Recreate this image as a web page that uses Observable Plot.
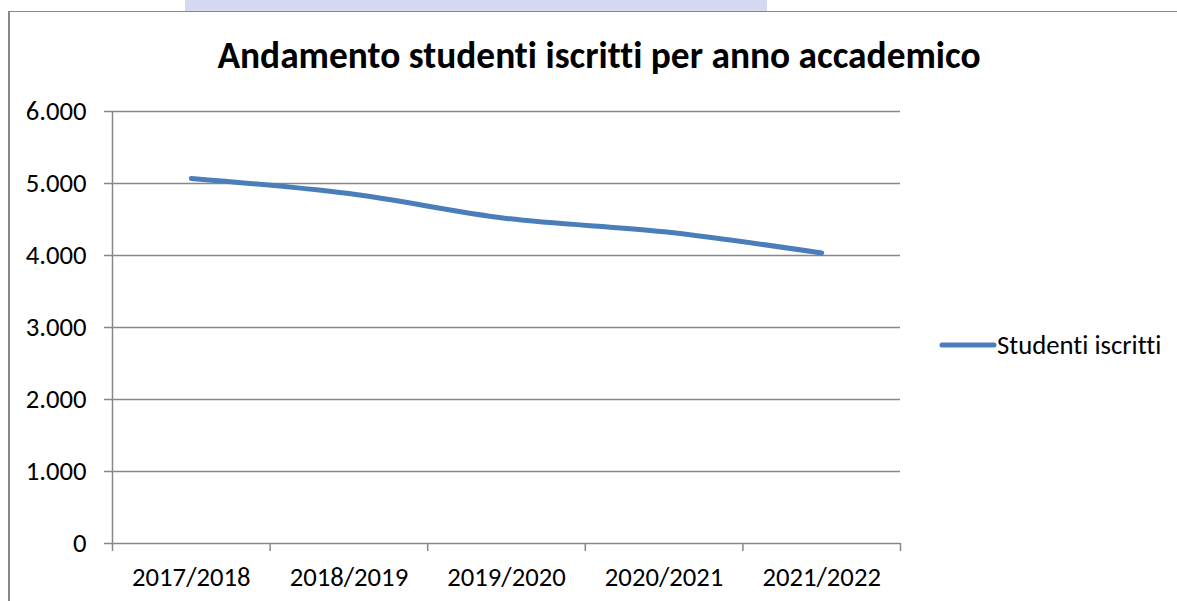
<!DOCTYPE html>
<html>
<head>
<meta charset="utf-8">
<script src="https://cdn.jsdelivr.net/npm/d3@7"></script>
<script src="https://cdn.jsdelivr.net/npm/@observablehq/plot@0.6"></script>
<style>
  html, body { margin: 0; padding: 0; background: #fff; }
  #wrap { position: relative; width: 1177px; height: 601px; overflow: hidden; background: #fff; }
  #band { position: absolute; left: 185px; top: 0; width: 582px; height: 11px; background: #d5d8ee; }
  #frame { position: absolute; left: 8px; top: 11px; width: 1180px; height: 600px;
           border-left: 2px solid #878787; border-top: 1.5px solid #878787; box-sizing: border-box; }
  #plot { position: absolute; left: 0; top: 0; }
  #overlay { position: absolute; left: 0; top: 0; pointer-events: none; }
  svg text { font-variant-ligatures: none; }
</style>
</head>
<body>
<div id="wrap">
  <div id="band"></div>
  <div id="frame"></div>
  <div id="plot"></div>
  <svg id="overlay" width="1177" height="601"></svg>
</div>
<script>
const title = "Andamento studenti iscritti per anno accademico";
const seriesName = "Studenti iscritti";
const categories = ["2017/2018", "2018/2019", "2019/2020", "2020/2021", "2021/2022"];
const values = [5070, 4860, 4515, 4330, 4035];
const yTicks = [0, 1000, 2000, 3000, 4000, 5000, 6000];

const lineColor = "#4a7ebb";
const gridColor = "#878787";
const labelFont = "Carlito, 'Open Sans', sans-serif";

const fmt = d3.formatLocale({decimal: ",", thousands: ".", grouping: [3], currency: ["", " €"]}).format(",");
const data = categories.map((c, i) => ({i, cat: c, v: values[i]}));
const idx = categories.map((c, i) => i);
const edges = [...idx.map(i => i - 0.5), categories.length - 0.5];

const chart = Plot.plot({
  width: 1177,
  height: 601,
  marginLeft: 112,
  marginRight: 277,
  marginTop: 111,
  marginBottom: 58,
  style: {fontFamily: labelFont, fontSize: "26.7px", color: "#000", background: "transparent"},
  x: {type: "linear", domain: [-0.5, categories.length - 0.5]},
  y: {domain: [0, 6000]},
  marks: [
    Plot.gridY(yTicks, {stroke: gridColor, strokeOpacity: 1, strokeWidth: 1.5}),
    Plot.axisY(yTicks, {tickSize: 8, tickPadding: 18, tickFormat: fmt, stroke: gridColor, strokeWidth: 1.5, fill: "#000", fontSize: 26.7, label: null}),
    Plot.ruleX([-0.5], {y1: 0, y2: 6000, stroke: gridColor, strokeWidth: 1.5}),
    Plot.axisX(edges, {tickSize: 8, tickFormat: () => "", stroke: gridColor, strokeWidth: 1.5, label: null}),
    Plot.axisX(idx, {tickSize: 0, tickPadding: 24, tickFormat: i => categories[i], fill: "#000", fontSize: 26.7, label: null}),
    Plot.line(data, {x: "i", y: "v", stroke: lineColor, strokeWidth: 5, curve: "catmull-rom", strokeLinecap: "round", strokeLinejoin: "round"})
  ]
});
document.getElementById("plot").appendChild(chart);

// Title and legend overlay
const ov = d3.select("#overlay");
ov.append("text")
  .attr("x", 599).attr("y", 68)
  .attr("text-anchor", "middle")
  .style("font-family", "Carlito, Lato, sans-serif")
  .style("font-weight", "bold")
  .style("font-size", "37.4px")
  .text(title);
ov.append("line")
  .attr("x1", 942).attr("x2", 994).attr("y1", 345).attr("y2", 345)
  .attr("stroke", lineColor).attr("stroke-width", 5).attr("stroke-linecap", "round");
ov.append("text")
  .attr("x", 997).attr("y", 354)
  .style("font-family", labelFont)
  .style("font-size", "26.7px")
  .text(seriesName);
</script>
</body>
</html>
